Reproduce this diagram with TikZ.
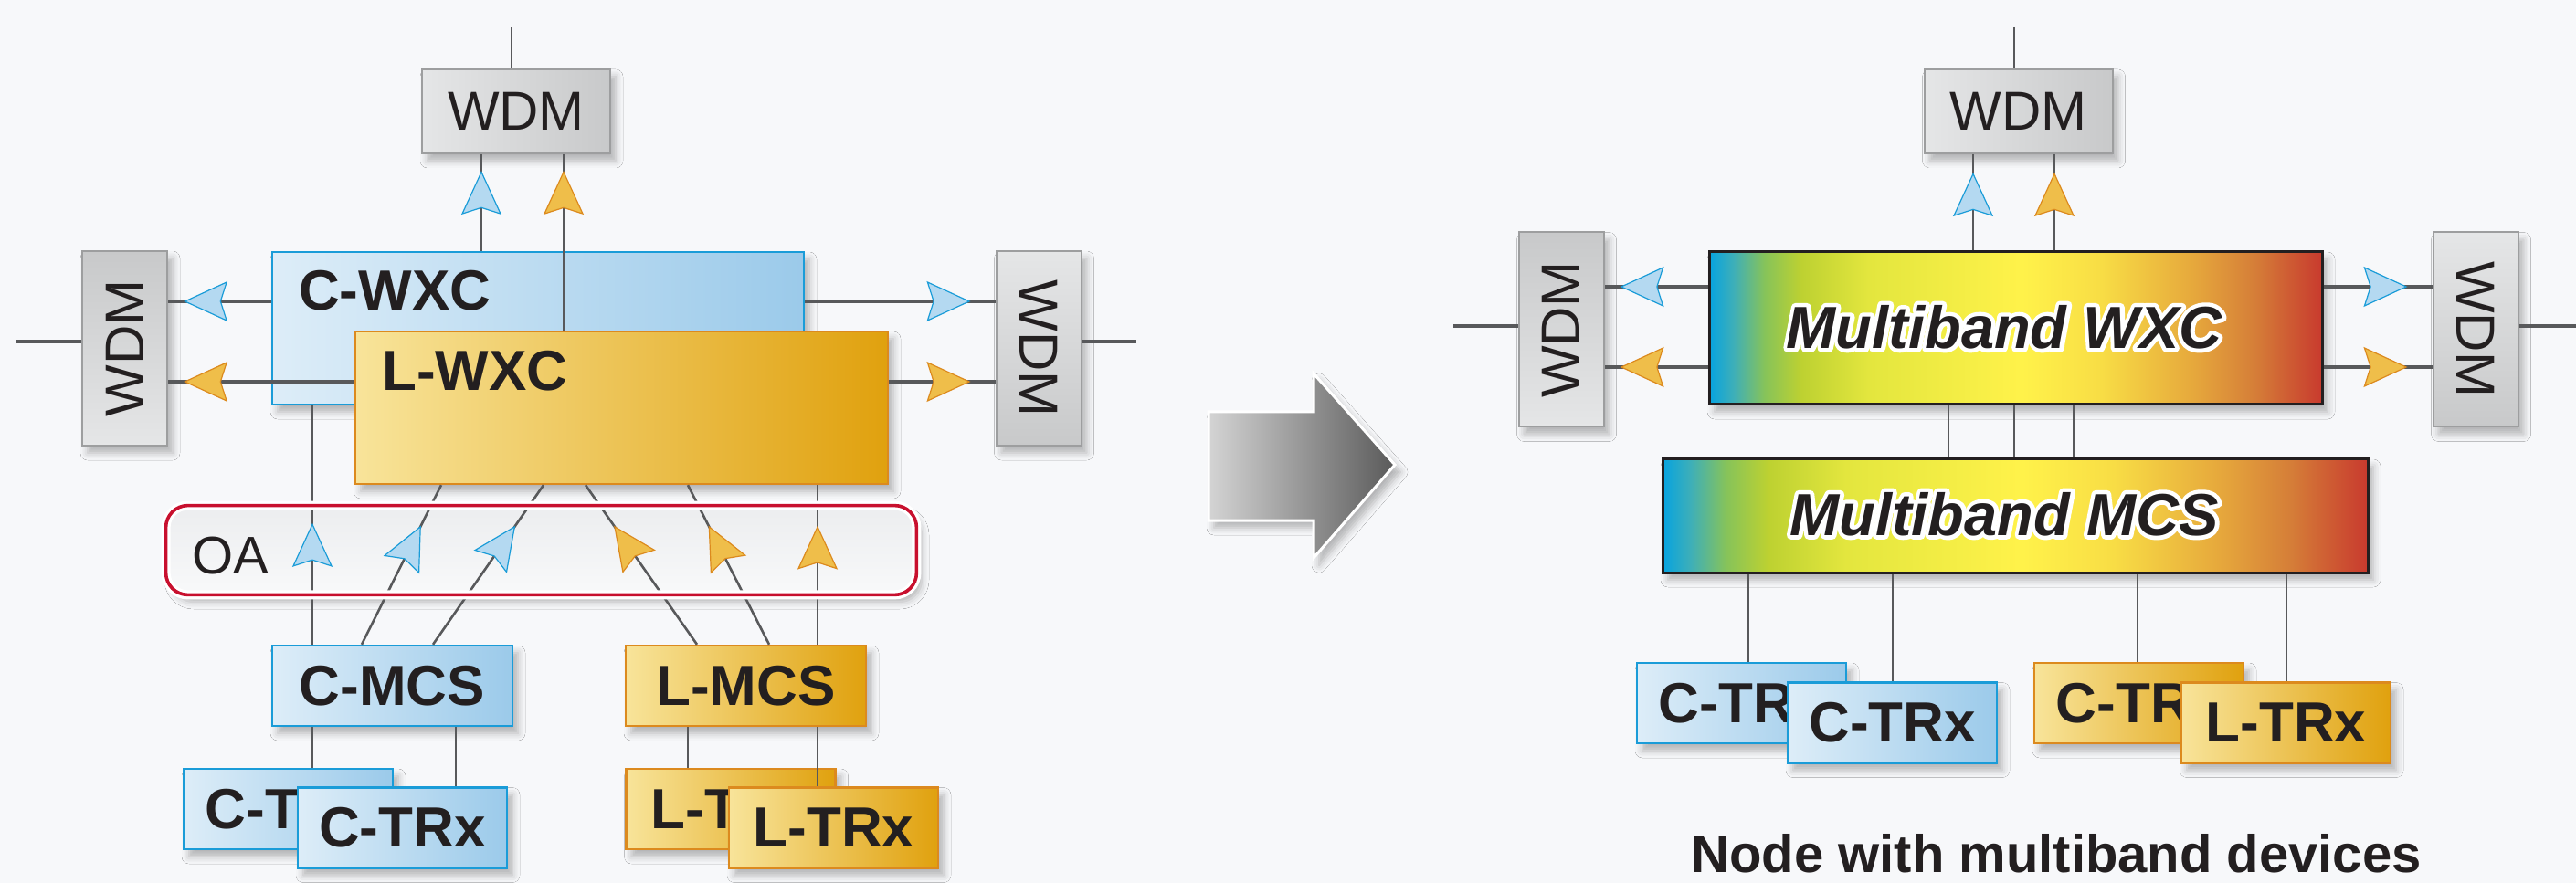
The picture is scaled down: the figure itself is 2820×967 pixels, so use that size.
\documentclass[tikz,border=0pt]{standalone}
\usepackage{fontspec}
\setmainfont{Liberation Sans}
\newfontface\mbhalo{Liberation Sans Bold Italic}[FakeBold=14]
\usetikzlibrary{arrows.meta,decorations.markings,shadows.blur,calc}

\definecolor{bgcol}{HTML}{F7F8FA}
\definecolor{wire}{HTML}{58595B}
\definecolor{txt}{HTML}{231F20}
\definecolor{cline}{HTML}{1A9CD8}
\definecolor{cleft}{HTML}{DDEDF8}
\definecolor{cright}{HTML}{9BCAEA}
\definecolor{cfill}{HTML}{B4D9F1}
\definecolor{lline}{HTML}{DC8A1E}
\definecolor{lleft}{HTML}{F8E49A}
\definecolor{lright}{HTML}{E0A10E}
\definecolor{lfill}{HTML}{EFBE4A}
\definecolor{wdmdark}{HTML}{C8C9CA}
\definecolor{wdmlight}{HTML}{E5E6E7}
\definecolor{wdmline}{HTML}{9D9E9F}
\definecolor{oared}{HTML}{C8102E}
\definecolor{oatop}{HTML}{ECEDEF}
\definecolor{oabot}{HTML}{F8F9FA}
\definecolor{rbA}{HTML}{06A3E0}
\definecolor{rbB}{HTML}{3EAFB8}
\definecolor{rbC}{HTML}{86C35A}
\definecolor{rbD}{HTML}{BDD131}
\definecolor{rbE}{HTML}{E3E63E}
\definecolor{rbF}{HTML}{FFF24A}
\definecolor{rbG}{HTML}{F8DD45}
\definecolor{rbH}{HTML}{E6A83C}
\definecolor{rbI}{HTML}{D57E38}
\definecolor{rbJ}{HTML}{C83A2E}
\definecolor{arrowl}{HTML}{D4D4D4}
\definecolor{arrowr}{HTML}{5A5A5A}

\pgfdeclarehorizontalshading{multiband}{100bp}{color(0bp)=(rbA); color(25bp)=(rbA);
  color(27bp)=(rbB); color(29.5bp)=(rbC); color(32.5bp)=(rbD); color(38bp)=(rbE);
  color(50.5bp)=(rbF); color(57bp)=(rbG); color(64.5bp)=(rbH); color(69.5bp)=(rbI);
  color(75bp)=(rbJ); color(100bp)=(rbJ)}

\tikzset{
  shadowed/.style={blur shadow={shadow xshift=3pt, shadow yshift=-4pt,
    shadow blur radius=4pt, shadow opacity=28}},
  wire/.style={draw=wire, line width=1.3pt},
  bus/.style={draw=wire, line width=1.6pt},
  ctip/.tip={Stealth[length=24pt, width=22pt, inset=3.5pt, line width=0.6pt, color=cline, fill=cfill]},
  ltip/.tip={Stealth[length=24pt, width=22pt, inset=3.5pt, line width=0.6pt, color=lline, fill=lfill]},
  amp/.style 2 args={postaction={decorate, decoration={markings,
    mark=at position #1 with {\arrow{#2}}}}},
  cbox/.style={draw=cline, line width=1.2pt, left color=cleft, right color=cright,
    inner sep=0pt, shadowed},
  lbox/.style={draw=lline, line width=1.2pt, left color=lleft, right color=lright,
    inner sep=0pt, shadowed},
  mbox/.style={draw=txt, line width=1.5pt, shading=multiband, inner sep=0pt, shadowed},
  wdmh/.style={draw=wdmline, line width=1pt, left color=wdmlight, right color=wdmdark,
    minimum width=103pt, minimum height=46pt, inner sep=0pt, shadowed},
  wdmv/.style={draw=wdmline, line width=1pt, minimum width=46.5pt, minimum height=106.5pt,
    inner sep=0pt, shadowed},
  trx/.style={minimum width=114.5pt, minimum height=44pt},
  mcs/.style={minimum width=131.5pt, minimum height=44pt},
  lbl/.style={font=\fontsize{31}{31}\selectfont\bfseries, text=txt, inner sep=0pt},
  backlbl/.style={lbl, anchor=west},
  reglbl/.style={font=\fontsize{30}{30}\selectfont, text=txt, inner sep=0pt},
  mblbl/.style={font=\fontsize{32.5}{32.5}\selectfont\bfseries\itshape, text=txt, inner sep=0pt},
  mbhalolbl/.style={font=\fontsize{32.5}{32.5}\selectfont\mbhalo, text=white, inner sep=0pt,
    line join=round, line cap=round},
  oaframe/.style={draw=oared, line width=1.8pt, rounded corners=12pt,
    preaction={draw=white, line width=5pt}},
}

\begin{document}
\begin{tikzpicture}[x=0.5pt, y=-0.5pt]
\useasboundingbox (0,0) rectangle (2820,967);
\fill[bgcol] (0,0) rectangle (2820,967);

% columns and levels
\foreach \n/\x in {cup/527, lup/617, ca/342, cb/396, cc/474, cd/499, la/483, lb/595,
  lc/641, ld/753, le/763, lf/842, lg/895,
  mup/2160, nup/2249, wa/2133, wb/2205, wc/2270, ta/1914, tb/2072, tc/2340, td/2503}
  \coordinate (k\n) at (\x,0);
\coordinate (yu) at (0,330);
\coordinate (yl) at (0,418);
\coordinate (yu2) at (0,314);
\coordinate (yl2) at (0,402);
\coordinate (topl) at (560,30);
\coordinate (topr) at (2205,30);
\coordinate (ml) at (18,374);
\coordinate (mr) at (1244,374);
\coordinate (ml2) at (1591,357);
\coordinate (mr2) at (2820,357);

% Left side
\node[wdmh] (wdmt) at (565,122) {};
\node[reglbl] (wdmttext) at (wdmt.center) {WDM};
\node[wdmv, top color=wdmdark, bottom color=wdmlight] (wdml) at (136.5,381.5) {};
\node[reglbl, rotate=90] (wdmltext) at (wdml.center) {WDM};
\node[wdmv, top color=wdmlight, bottom color=wdmdark] (wdmr) at (1137,381.5) {};
\node[reglbl, rotate=-90] (wdmrtext) at (wdmr.center) {WDM};
\draw[wire] (topl) -- (topl |- wdmt.north);
\draw[bus] (ml) -- (wdml.west |- ml);
\draw[bus] (wdmr.east |- mr) -- (mr);

\node[cbox, minimum width=291pt, minimum height=83.5pt] (cwxc) at (589,359.5) {};
\node[lbl, anchor=north west] (cwxclbl) at ([shift={(30,21)}]cwxc.north west) {C-WXC};
\node[lbox, minimum width=291.5pt, minimum height=83.5pt] (lwxc) at (680.5,446.5) {};
\node[lbl, anchor=north west] (lwxclbl) at ([shift={(30,22)}]lwxc.north west) {L-WXC};

\draw[bus, amp={-8.5pt}{ctip}] (cwxc.west |- yu) -- (wdml.east |- yu);
\draw[bus, amp={-13.5pt}{ctip}] (cwxc.east |- yu) -- (wdmr.west |- yu);
\draw[bus, amp={-8.5pt}{ltip}] (lwxc.west |- yl) -- (wdml.east |- yl);
\draw[bus, amp={-13.5pt}{ltip}] (lwxc.east |- yl) -- (wdmr.west |- yl);
\draw[wire, amp={-9pt}{ctip}] (cwxc.north -| kcup) -- (wdmt.south -| kcup);
\draw[wire, amp={-9pt}{ltip}] (lwxc.north -| klup) -- (wdmt.south -| klup);

% OA stage and MCS
\node[top color=oatop, bottom color=oabot, rounded corners=12pt, inner sep=0pt,
  minimum width=410.5pt, minimum height=48.5pt, shadowed] (oa) at (592.5,602.5) {};
\node[cbox, mcs] (cmcs) at (429.5,751) {};
\node[lbl] (cmcslbl) at (cmcs.center) {C-MCS};
\node[lbox, mcs] (lmcs) at (816.5,751) {};
\node[lbl] (lmcslbl) at (lmcs.center) {L-MCS};
\node[cbox, trx] (ctrb) at (315.5,886) {};
\node[backlbl] (ctrblbl) at ([xshift=-45.6pt]ctrb.center) {C-T};
\node[cbox, trx] (ctrf) at (440.5,906.5) {};
\node[lbl] (ctrflbl) at (ctrf.center) {C-TRx};
\node[lbox, trx] (ltrb) at (800,886) {};
\node[backlbl] (ltrblbl) at ([xshift=-43.9pt]ltrb.center) {L-T};

\draw[wire, amp={66.5pt}{ctip}] (cmcs.north -| kca) -- (cwxc.south -| kca);
\draw[wire, amp={0.746}{ctip}] (cmcs.north -| kcb) -- (lwxc.south -| kla);
\draw[wire, amp={0.746}{ctip}] (cmcs.north -| kcc) -- (lwxc.south -| klb);
\draw[wire, amp={0.746}{ltip}] (lmcs.north -| kle) -- (lwxc.south -| klc);
\draw[wire, amp={0.746}{ltip}] (lmcs.north -| klf) -- (lwxc.south -| kld);
\draw[wire, amp={0.746}{ltip}] (lmcs.north -| klg) -- (lwxc.south -| klg);
\draw[oaframe] (oa.north west) rectangle (oa.south east);
\node[reglbl, font=\fontsize{29}{29}\selectfont] (oalbl) at (252,609) {OA};

\node[lbox, trx] (ltrf) at (912.5,906.5) {};
\node[lbl] (ltrflbl) at (ltrf.center) {L-TRx};
\draw[wire] (cmcs.south -| kca) -- (ctrb.north -| kca);
\draw[wire] (cmcs.south -| kcd) -- (ctrf.north -| kcd);
\draw[wire] (lmcs.south -| kld) -- (ltrb.north -| kld);
\draw[wire] (lmcs.south -| klg) -- (ltrf.north -| klg);

% Arrow in the middle
\fill[left color=arrowl, right color=arrowr, draw=white, line width=1.5pt, shadowed]
  (1323,451) -- (1438,451) -- (1438,409) -- (1527,509) -- (1438,611) -- (1438,570)
  -- (1323,570) -- cycle;

% Right side
\node[wdmh] (wdmt2) at (2209.5,122) {};
\node[reglbl] (wdmt2text) at (wdmt2.center) {WDM};
\node[wdmv, top color=wdmdark, bottom color=wdmlight] (wdml2) at (1709,361) {};
\node[reglbl, rotate=90] (wdml2text) at (wdml2.center) {WDM};
\node[wdmv, top color=wdmlight, bottom color=wdmdark] (wdmr2) at (2710,361) {};
\node[reglbl, rotate=-90] (wdmr2text) at (wdmr2.center) {WDM};
\draw[wire] (topr) -- (topr |- wdmt2.north);
\draw[bus] (ml2) -- (wdml2.west |- ml2);
\draw[bus] (wdmr2.east |- mr2) -- (mr2);

\node[mbox, minimum width=335.5pt, minimum height=83.5pt] (mwxc) at (2206.5,359.5) {};
\node[mbhalolbl] (mwxchalo) at (2194,358) {Multiband WXC};
\node[mblbl] (mwxclbl) at (mwxchalo.center) {Multiband WXC};
\node[mbox, minimum width=386pt, minimum height=62pt] (mmcs) at (2206,565) {};
\node[mbhalolbl] (mmcshalo) at (2194,563) {Multiband MCS};
\node[mblbl] (mmcslbl) at (mmcshalo.center) {Multiband MCS};

\draw[bus, amp={-8.5pt}{ctip}] (mwxc.west |- yu2) -- (wdml2.east |- yu2);
\draw[bus, amp={-13.5pt}{ctip}] (mwxc.east |- yu2) -- (wdmr2.west |- yu2);
\draw[bus, amp={-8.5pt}{ltip}] (mwxc.west |- yl2) -- (wdml2.east |- yl2);
\draw[bus, amp={-13.5pt}{ltip}] (mwxc.east |- yl2) -- (wdmr2.west |- yl2);
\draw[wire, amp={-10pt}{ctip}] (mwxc.north -| kmup) -- (wdmt2.south -| kmup);
\draw[wire, amp={-10pt}{ltip}] (mwxc.north -| knup) -- (wdmt2.south -| knup);
\draw[wire] (mwxc.south -| kwa) -- (mmcs.north -| kwa);
\draw[wire] (mwxc.south -| kwb) -- (mmcs.north -| kwb);
\draw[wire] (mwxc.south -| kwc) -- (mmcs.north -| kwc);

\node[cbox, trx] (ctrb2) at (1906.5,770) {};
\node[backlbl] (ctrb2lbl) at ([xshift=-45.6pt]ctrb2.center) {C-TR};
\node[cbox, trx] (ctrf2) at (2071.5,791.5) {};
\node[lbl] (ctrf2lbl) at (ctrf2.center) {C-TRx};
\node[lbox, trx] (otrb2) at (2341.5,770) {};
\node[backlbl] (otrb2lbl) at ([xshift=-45.6pt]otrb2.center) {C-TR};
\node[lbox, trx] (ltrf2) at (2502.5,791.5) {};
\node[lbl] (ltrf2lbl) at (ltrf2.center) {L-TRx};
\draw[wire] (mmcs.south -| kta) -- (ctrb2.north -| kta);
\draw[wire] (mmcs.south -| ktb) -- (ctrf2.north -| ktb);
\draw[wire] (mmcs.south -| ktc) -- (otrb2.north -| ktc);
\draw[wire] (mmcs.south -| ktd) -- (ltrf2.north -| ktd);

\node[lbl, font=\fontsize{29}{29}\selectfont\bfseries, anchor=base] (caption)
  at (2251,955) {Node with multiband devices};
\end{tikzpicture}
\end{document}
